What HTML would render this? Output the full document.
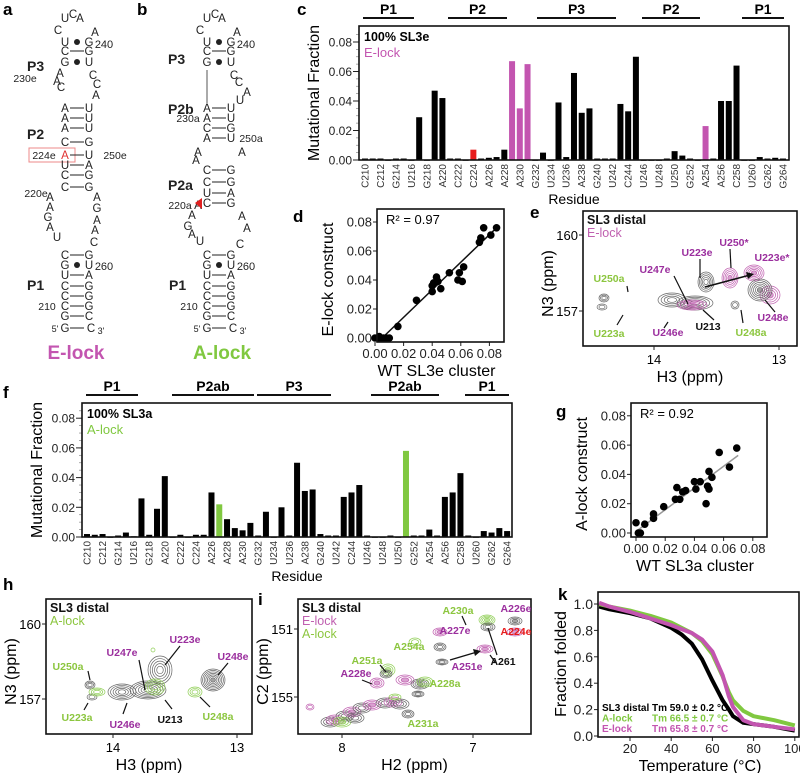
<!DOCTYPE html>
<html><head><meta charset="utf-8"><style>
html,body{margin:0;padding:0;background:#fff;}
svg{display:block;font-family:"Liberation Sans",sans-serif;}
.pl{font-weight:bold;font-size:17px;}
.tk{font-size:12px;fill:#222;}
.rl{font-size:10px;fill:#333;}
.nt{font-size:11.5px;fill:#222;}
.sb{font-weight:bold;font-size:14px;}
.lab{font-weight:bold;font-size:10.5px;}
</style></head><body>
<svg id="fig" width="800" height="773" viewBox="0 0 800 773">
<g>
<text class="pl" x="3" y="15">a</text><text class="pl" x="137" y="15">b</text><text class="pl" x="297" y="15">c</text>
<text class="pl" x="293" y="222">d</text><text class="pl" x="530" y="218">e</text><text class="pl" x="3" y="398">f</text>
<text class="pl" x="556" y="417">g</text><text class="pl" x="3" y="590">h</text><text class="pl" x="258" y="605">i</text><text class="pl" x="558" y="600">k</text>
</g>
<g class="nt" text-anchor="middle">
<text x="65" y="22">U</text><text x="73" y="18">C</text><text x="80" y="22">A</text>
<text x="58" y="34">C</text><text x="95" y="36">A</text>
<text x="65" y="46">U</text><circle cx="77" cy="42" r="3"/><text x="89" y="46">G</text><text x="104" y="48" font-size="11">240</text>
<text x="65" y="55">C</text><line x1="70" y1="51" x2="84" y2="51" stroke="#222"/><text x="89" y="55">G</text>
<text x="65" y="66">G</text><circle cx="77" cy="62" r="3"/><text x="89" y="66">U</text>
<text x="60" y="77">A</text><text x="57" y="85">A</text><text x="61" y="91">C</text><text x="25" y="82" font-size="10.5">230e</text>
<text x="93" y="79">C</text><text x="97" y="88">C</text><text x="96" y="99">A</text>
<text y="71" class="sb" text-anchor="start" x="27">P3</text>
<text x="65" y="112">A</text><text x="89" y="112">U</text><text x="65" y="122">A</text><text x="89" y="122">U</text>
<text x="65" y="132">A</text><text x="89" y="132">U</text><text x="65" y="146">C</text><text x="89" y="146">G</text>
<text x="65" y="159" fill="#e03030">A</text><text x="89" y="159">U</text><text x="44" y="159" font-size="10.5">224e</text><text x="115" y="159" font-size="10.5">250e</text>
<rect x="29" y="148" width="46" height="14" fill="none" stroke="#e88"/>
<text x="65" y="169">U</text><text x="89" y="169">A</text><text x="65" y="179">C</text><text x="89" y="179">G</text>
<text x="65" y="191">C</text><text x="89" y="191">G</text>
<text x="27" y="139" class="sb" text-anchor="start">P2</text>
<text x="36" y="197" font-size="10.5">220e</text><text x="50" y="201">A</text><text x="50" y="211">A</text><text x="48" y="221">G</text><text x="50" y="231">A</text><text x="57" y="241">U</text>
<text x="97" y="201">A</text><text x="97" y="212">G</text><text x="97" y="224">A</text><text x="95" y="234">A</text><text x="94" y="246">C</text>
<text x="65" y="259">C</text><text x="89" y="259">G</text><text x="65" y="269">G</text><circle cx="77" cy="265" r="3"/><text x="89" y="269">U</text><text x="104" y="270" font-size="11">260</text>
<text x="65" y="279">U</text><text x="89" y="279">A</text><text x="65" y="290">C</text><text x="89" y="290">G</text>
<text x="65" y="300">C</text><text x="89" y="300">G</text><text x="65" y="310">C</text><text x="89" y="310">G</text><text x="47" y="310" font-size="10.5">210</text>
<text x="65" y="320">G</text><text x="89" y="320">C</text><text x="65" y="332">G</text><text x="91" y="332">C</text><text x="55" y="332" font-size="9">5'</text><text x="101" y="334" font-size="9">3'</text>
<text x="27" y="290" class="sb" text-anchor="start">P1</text>
<g stroke="#222"><line x1="70" y1="108" x2="84" y2="108"/><line x1="70" y1="118" x2="84" y2="118"/><line x1="70" y1="128" x2="84" y2="128"/><line x1="70" y1="142" x2="84" y2="142"/><line x1="70" y1="155" x2="84" y2="155"/><line x1="70" y1="165" x2="84" y2="165"/><line x1="70" y1="175" x2="84" y2="175"/><line x1="70" y1="187" x2="84" y2="187"/><line x1="70" y1="255" x2="84" y2="255"/><line x1="70" y1="275" x2="84" y2="275"/><line x1="70" y1="286" x2="84" y2="286"/><line x1="70" y1="296" x2="84" y2="296"/><line x1="70" y1="306" x2="84" y2="306"/><line x1="70" y1="316" x2="84" y2="316"/><line x1="70" y1="328" x2="84" y2="328"/></g>
<text x="76" y="359" font-size="19" font-weight="bold" fill="#c355b0">E-lock</text>
</g>
<g class="nt" text-anchor="middle">
<text x="207" y="22">U</text><text x="215" y="18">C</text><text x="222" y="22">A</text>
<text x="200" y="34">C</text><text x="237" y="36">A</text>
<text x="207" y="46">U</text><circle cx="219" cy="42" r="3"/><text x="231" y="46">G</text><text x="246" y="48" font-size="11">240</text>
<text x="207" y="55">C</text><text x="231" y="55">G</text>
<text x="207" y="66">G</text><circle cx="219" cy="62" r="3"/><text x="231" y="66">U</text>
<text x="168" y="64" class="sb" text-anchor="start">P3</text>
<line x1="207" y1="70" x2="207" y2="103" stroke="#555"/>
<text x="234" y="79">C</text><text x="239" y="86">C</text><text x="247" y="96">A</text><text x="240" y="104">U</text>
<text x="168" y="114" class="sb" text-anchor="start">P2b</text>
<text x="207" y="112">A</text><text x="231" y="112">U</text><text x="207" y="122">A</text><text x="231" y="122">U</text><text x="188" y="122" font-size="10.5">230a</text>
<text x="207" y="132">C</text><text x="231" y="132">G</text><text x="207" y="142">A</text><text x="231" y="142">U</text><text x="251" y="142" font-size="10.5">250a</text>
<text x="198" y="156">A</text><text x="196" y="164">A</text><text x="242" y="156">A</text>
<text x="207" y="174">C</text><text x="231" y="174">G</text><text x="207" y="186">C</text><text x="231" y="186">G</text>
<text x="168" y="190" class="sb" text-anchor="start">P2a</text>
<text x="207" y="197">U</text><text x="231" y="197">A</text><text x="207" y="207">C</text><text x="231" y="207">G</text>
<text x="198" y="209">A</text><text x="180" y="209" font-size="10.5">220a</text>
<polygon points="195,203 202,198 202,209" fill="#e02020"/>
<text x="192" y="219">A</text><text x="188" y="230">G</text><text x="192" y="238">A</text><text x="200" y="245">U</text>
<text x="242" y="220">A</text><text x="247" y="232">A</text><text x="240" y="248">C</text>
<text x="207" y="259">C</text><text x="231" y="259">G</text><text x="207" y="269">G</text><circle cx="219" cy="265" r="3"/><text x="231" y="269">U</text><text x="246" y="270" font-size="11">260</text>
<text x="207" y="279">U</text><text x="231" y="279">A</text><text x="207" y="290">C</text><text x="231" y="290">G</text>
<text x="207" y="300">C</text><text x="231" y="300">G</text><text x="207" y="310">C</text><text x="231" y="310">G</text><text x="189" y="310" font-size="10.5">210</text>
<text x="207" y="320">G</text><text x="231" y="320">C</text><text x="207" y="332">G</text><text x="233" y="332">C</text><text x="197" y="332" font-size="9">5'</text><text x="243" y="334" font-size="9">3'</text>
<text x="169" y="290" class="sb" text-anchor="start">P1</text>
<g stroke="#222"><line x1="212" y1="51" x2="226" y2="51"/><line x1="212" y1="108" x2="226" y2="108"/><line x1="212" y1="118" x2="226" y2="118"/><line x1="212" y1="128" x2="226" y2="128"/><line x1="212" y1="138" x2="226" y2="138"/><line x1="212" y1="170" x2="226" y2="170"/><line x1="212" y1="182" x2="226" y2="182"/><line x1="212" y1="193" x2="226" y2="193"/><line x1="212" y1="203" x2="226" y2="203"/><line x1="212" y1="255" x2="226" y2="255"/><line x1="212" y1="275" x2="226" y2="275"/><line x1="212" y1="286" x2="226" y2="286"/><line x1="212" y1="296" x2="226" y2="296"/><line x1="212" y1="306" x2="226" y2="306"/><line x1="212" y1="316" x2="226" y2="316"/><line x1="212" y1="328" x2="226" y2="328"/></g>
<text x="222" y="359" font-size="19" font-weight="bold" fill="#80c840">A-lock</text>
</g>
<g id="chartC"></g>
<g id="chartF"></g>
<g id="chartD"></g>
<g id="chartG"></g>
<g id="chartK"></g>
<g id="specE"></g>
<g id="specH"></g>
<g id="specI"></g>
</svg>
<script>
const residues = [];
for (let r = 210; r <= 264; r++) residues.push(r);
const residueTickLabels = ["C210","C212","G214","U216","G218","A220","C222","C224","A226","A228","A230","G232","U234","U236","A238","G240","U242","C244","U246","U248","U250","G252","A254","A256","C258","U260","G262","G264"];
const elockValues = [0.001,0.001,0.001,0,0.001,0.001,0,0.029,0,0.047,0.042,0.001,0.001,0,0.007,0.001,0.0015,0.002,0.007,0.067,0.035,0.065,0,0.005,0,0.039,0.002,0.059,0.032,0.035,0.001,0.001,0.001,0.038,0.033,0.070,0,0,0,0.001,0.006,0.003,0.001,0,0.023,0.001,0.040,0.040,0.064,0,0,0.002,0.001,0.0015,0.001];
const alockValues = [0.002,0.0015,0.002,0,0.001,0.003,0.0005,0.026,0.0015,0.019,0.041,0,0.0015,0,0.0015,0.0015,0.030,0.022,0.012,0.006,0.0045,0.0095,0.001,0.017,0,0.020,0.001,0.050,0.031,0.032,0.002,0.001,0.001,0.027,0.030,0.035,0.001,0,0,0.001,0,0.058,0.001,0.001,0.005,0.001,0.027,0.030,0.043,0.001,0,0.004,0.003,0.006,0.004];
const elockRed = [224];
const elockMagenta = [229,230,231,254];
const alockGreen = [227,251];
const yTicks = [0,0.02,0.04,0.06,0.08];
const yTickLabels = ["0.00","0.02","0.04","0.06","0.08"];
const dWT = [0,0.002,0.004,0.006,0.008,0.010,0.003,0.016,0.029,0.040,0.040,0.041,0.043,0.044,0.046,0.052,0.059,0.058,0.062,0.061,0.073,0.074,0.076,0.081,0.085];
const dLock = [0,0,0,0,0,0,0.001,0.008,0.026,0.036,0.032,0.038,0.042,0.039,0.034,0.045,0.045,0.040,0.049,0.039,0.066,0.069,0.076,0.071,0.076];
const dFit = [0.005,0.085]; const dFitY = [0,0.076];
const gWT = [0,0.0016,0.003,0.006,0.012,0.012,0.019,0.028,0.027,0.030,0.032,0.034,0.040,0.041,0.044,0.048,0.049,0.050,0.050,0.052,0.057,0.064,0.069];
const gLock = [0.007,0,0,0.006,0.013,0.010,0.018,0.031,0.023,0.023,0.028,0.029,0.035,0.030,0.035,0.020,0.032,0.030,0.042,0.038,0.055,0.045,0.058];
const gFit = [0,0.07]; const gFitY = [0.001,0.053];
const kTemp = [5,10,20,30,40,45,50,55,60,65,68,70,75,80,90,100];
const kWT = [0.98,0.96,0.93,0.89,0.82,0.77,0.70,0.58,0.42,0.27,0.20,0.15,0.10,0.09,0.07,0.04];
const kA = [1.0,0.98,0.95,0.91,0.86,0.82,0.78,0.72,0.62,0.45,0.33,0.27,0.19,0.15,0.12,0.08];
const kE = [1.01,0.98,0.94,0.89,0.84,0.81,0.78,0.73,0.64,0.46,0.30,0.22,0.12,0.09,0.07,0.05];
const kXTicks = [20,40,60,80,100];
const kYTicks = [0,0.2,0.4,0.6,0.8,1.0];
const kYTickLabels = ["0.0","0.2","0.4","0.6","0.8","1.0"];

const NS = "http://www.w3.org/2000/svg";
function mk(parent, tag, attrs, txt) {
  const e = document.createElementNS(NS, tag);
  for (const k in attrs) e.setAttribute(k, attrs[k]);
  if (txt !== undefined) e.textContent = txt;
  parent.appendChild(e);
  return e;
}
const MAG = "#c355b0", GRN = "#80c840", RED = "#e81c1c";

function barChart(g, vals, hl, box, x0, step, sampleName, lockName, lockColor, hdrs) {
  const y0 = box.y + box.h;
  const ys = v => y0 - v / 0.02 * box.p;
  const xs = r => x0 + (r - 210) * step;
  for (let t = 0; t <= 0.09; t += 0.005) {
    const tick = mk(g, "line", {x1: box.x - 3, x2: box.x, y1: ys(t), y2: ys(t), stroke: "#888", "stroke-width": 0.7});
    
    
  }
  yTicks.forEach((t, i) => {
    const tk = mk(g, "line", {x1: box.x - 6, x2: box.x, y1: ys(t), y2: ys(t), stroke: "#222"});
    
    
    const lb = mk(g, "text", {x: box.x - 7, y: ys(t) + 4.5, "text-anchor": "end", class: "tk", "font-size": 13}, yTickLabels[i]);
    
    
  });
  residues.forEach((r, i) => {
    let c = "#000";
    if (hl.red && hl.red.includes(r)) c = RED;
    if (hl.mag && hl.mag.includes(r)) c = MAG;
    if (hl.grn && hl.grn.includes(r)) c = GRN;
    const b = mk(g, "rect", {x: xs(r) - 3, y: ys(vals[i]), width: 6, height: Math.max(0.8, y0 - ys(vals[i])), fill: c});
    
    
  });
  residueTickLabels.forEach((lab, i) => {
    const r = 210 + i * 2;
    const t = mk(g, "text", {x: 0, y: 0, "text-anchor": "end", class: "rl", transform: `translate(${xs(r) + 3.5},${y0 + 4}) rotate(-90)`}, lab);
    
    
  });
  const fr = mk(g, "rect", {x: box.x, y: box.y, width: box.w, height: box.h, fill: "none", stroke: "#111", "stroke-width": 1.6});
  
  
  const s1 = mk(g, "text", {x: box.x + 5, y: box.y + 15, "font-weight": "bold", "font-size": 12.5}, sampleName);
  
  
  const s2 = mk(g, "text", {x: box.x + 5, y: box.y + 31, "font-size": 13, fill: lockColor}, lockName);
  
  
  const yt = mk(g, "text", {x: 0, y: 0, "text-anchor": "middle", "font-size": 16, transform: `translate(${box.x - 40},${box.y + box.h / 2}) rotate(-90)`}, "Mutational Fraction");
  
  
  const xt = mk(g, "text", {x: box.x + box.w / 2, y: y0 + 44, "text-anchor": "middle", "font-size": 14}, "Residue");
  
  
  hdrs.forEach(h => {
    const ln = mk(g, "line", {x1: h[1], x2: h[2], y1: h[3], y2: h[3], stroke: "#111", "stroke-width": 2});
    
    
    const tx = mk(g, "text", {x: (h[1] + h[2]) / 2, y: h[3] - 4, "text-anchor": "middle", "font-weight": "bold", "font-size": 14}, h[0]);
    
    
  });
}
barChart(document.getElementById("chartC"), elockValues, {red: elockRed, mag: elockMagenta},
  {x: 359, y: 26, w: 430, h: 134, p: 29.5}, 365, 7.74, "100% SL3e", "E-lock", MAG,
  [["P1",363,414,18],["P2",448,507,18],["P3",537,616,18],["P2",642,700,18],["P1",742,784,18]]);
barChart(document.getElementById("chartF"), alockValues, {grn: alockGreen},
  {x: 82, y: 403, w: 430, h: 134, p: 29.7}, 87, 7.78, "100% SL3a", "A-lock", GRN,
  [["P1",86,138,395],["P2ab",172,254,395],["P3",257,331,395],["P2ab",371,439,395],["P1",465,509,395]]);

function scatter(g, xv, yv, fx, fy, box, x00, y00, pxx, pxy, r2, lineColor, xtitle, ytitle) {
  const xs = v => x00 + v / 0.02 * pxx, ys = v => y00 - v / 0.02 * pxy;
  yTicks.forEach((t, i) => {
    const a = mk(g, "line", {x1: box.x - 4, x2: box.x, y1: ys(t), y2: ys(t), stroke: "#222"});
    
    
    const b = mk(g, "text", {x: box.x - 5, y: ys(t) + 4.5, "text-anchor": "end", "font-size": 13, fill: "#222"}, yTickLabels[i]);
    
    
    const c = mk(g, "line", {x1: xs(t), x2: xs(t), y1: box.y + box.h, y2: box.y + box.h + 4, stroke: "#222"});
    
    
    const d = mk(g, "text", {x: xs(t), y: box.y + box.h + 16, "text-anchor": "middle", "font-size": 13, fill: "#222"}, yTickLabels[i]);
    
    
  });
  const ln = mk(g, "line", {x1: xs(fx[0]), y1: ys(fy[0]), x2: xs(fx[1]), y2: ys(fy[1]), stroke: lineColor, "stroke-width": 1.5});
  
  
  xv.forEach((v, i) => {
    const p = mk(g, "circle", {cx: xs(v), cy: ys(yv[i]), r: 3.8, fill: "#000"});
    
    
  });
  const fr = mk(g, "rect", {x: box.x, y: box.y, width: box.w, height: box.h, fill: "none", stroke: "#111", "stroke-width": 1.6});
  
  
  const rt = mk(g, "text", {x: box.x + 9, y: box.y + 15, "font-size": 13}, "R² = " + r2);
  
  
  const xt = mk(g, "text", {x: box.x + box.w / 2 - 4, y: box.y + box.h + 34, "text-anchor": "middle", "font-size": 16}, xtitle);
  
  
  const yt = mk(g, "text", {x: 0, y: 0, "text-anchor": "middle", "font-size": 16, transform: `translate(${box.x - 44},${box.y + box.h / 2 + 4}) rotate(-90)`}, ytitle);
  
  
}
scatter(document.getElementById("chartD"), dWT, dLock, dFit, dFitY, {x: 377, y: 209, w: 127, h: 133}, 375, 338, 28.6, 29, "0.97", "#111", "WT SL3e cluster", "E-lock construct");
scatter(document.getElementById("chartG"), gWT, gLock, gFit, gFitY, {x: 631, y: 403, w: 136, h: 134}, 636, 533, 29.2, 29.3, "0.92", "#999", "WT SL3a cluster", "A-lock construct");

(function () {
  const g = document.getElementById("chartK");
  const box = {x: 598, y: 592, w: 201, h: 145};
  const xs = t => 630 + (t - 20) * 2.06, ys = v => 736 - v * 132;
  const series = [[kWT, "#000"], [kA, GRN], [kE, MAG]];
  series.forEach(s => {
    const pts = kTemp.map((t, i) => xs(t).toFixed(1) + "," + ys(s[0][i]).toFixed(1)).join(" ");
    const pl = mk(g, "polyline", {points: pts, fill: "none", stroke: s[1], "stroke-width": 4, "stroke-linejoin": "round"});
    
    
  });
  kXTicks.forEach(t => {
    const a = mk(g, "line", {x1: xs(t), x2: xs(t), y1: box.y + box.h, y2: box.y + box.h + 4, stroke: "#222"});
    
    
    const b = mk(g, "text", {x: xs(t), y: 753, "text-anchor": "middle", "font-size": 13, fill: "#222"}, String(t));
    
    
  });
  kYTicks.forEach((t, i) => {
    const a = mk(g, "line", {x1: box.x - 4, x2: box.x, y1: ys(t), y2: ys(t), stroke: "#222"});
    
    
    const b = mk(g, "text", {x: box.x - 5, y: ys(t) + 5, "text-anchor": "end", "font-size": 14, fill: "#222"}, kYTickLabels[i]);
    
    
  });
  const fr = mk(g, "rect", {x: box.x, y: box.y, width: box.w, height: box.h, fill: "none", stroke: "#111", "stroke-width": 1.6});
  
  
  const leg = [["SL3 distal", "Tm 59.0 ± 0.2 °C", "#000", 711], ["A-lock", "Tm 66.5 ± 0.7 °C", GRN, 721.5], ["E-lock", "Tm 65.8 ± 0.7 °C", MAG, 732]];
  leg.forEach(l => {
    const a = mk(g, "text", {x: 602, y: l[3], "font-size": 10, "font-weight": "bold", fill: l[2]}, l[0]);
    
    
    const b = mk(g, "text", {x: 652, y: l[3], "font-size": 10, "font-weight": "bold", fill: l[2]}, l[1]);
    
    
  });
  const xt = mk(g, "text", {x: 700, y: 771, "text-anchor": "middle", "font-size": 16}, "Temperature (°C)");
  
  
  const yt = mk(g, "text", {x: 0, y: 0, "text-anchor": "middle", "font-size": 16, transform: "translate(566,664) rotate(-90)"}, "Fraction folded");
  
  
})();

function peak(g, cx, cy, rx, ry, color, n, filled) {
  for (let k = 0; k < n; k++) {
    const f = 1 - k / (n + 0.5);
    const e = mk(g, "ellipse", {cx: cx, cy: cy, rx: rx * f, ry: ry * f, fill: filled && k === n - 1 ? color : "none", stroke: color, "stroke-width": 0.7, "fill-opacity": 0.6});
    
    
  }
}
function specFrame(g, box, yt, xt, ylabs, xlabs, xtitle, ytitle, heads) {
  const fr = mk(g, "rect", {x: box.x, y: box.y, width: box.w, height: box.h, fill: "none", stroke: "#111", "stroke-width": 1.6});
  
  
  ylabs.forEach(l => {
    const a = mk(g, "line", {x1: box.x - 4, x2: box.x, y1: l[1], y2: l[1], stroke: "#222"});
    
    
    const b = mk(g, "text", {x: box.x - 5, y: l[1] + 5, "text-anchor": "end", "font-size": 13}, l[0]);
    
    
  });
  xlabs.forEach(l => {
    const a = mk(g, "line", {x1: l[1], x2: l[1], y1: box.y + box.h, y2: box.y + box.h + 4, stroke: "#222"});
    
    
    const b = mk(g, "text", {x: l[1], y: box.y + box.h + 18, "text-anchor": "middle", "font-size": 13}, l[0]);
    
    
  });
  const x1 = mk(g, "text", {x: box.x + box.w / 2, y: box.y + box.h + 36, "text-anchor": "middle", "font-size": 16}, xtitle);
  
  
  const y1 = mk(g, "text", {x: 0, y: 0, "text-anchor": "middle", "font-size": 16, transform: `translate(${box.x - 30},${box.y + box.h / 2 + 5}) rotate(-90)`}, ytitle);
  
  
  heads.forEach((h, i) => {
    const t = mk(g, "text", {x: box.x + 4, y: box.y + 13 + i * 13, "font-size": 12.5, "font-weight": i === 0 ? "bold" : "normal", fill: h[1]}, h[0]);
    
    
  });
}
function labels(g, arr) {
  arr.forEach(a => {
    const t = mk(g, "text", {x: a[1], y: a[2], "text-anchor": "middle", class: "lab", fill: a[3]}, a[0]);
    
    
  });
}
function lines(g, arr) {
  arr.forEach(a => {
    const l = mk(g, "line", {x1: a[0], y1: a[1], x2: a[2], y2: a[3], stroke: "#111", "stroke-width": 1.2});
    
    
  });
}
const GR = "#666", MG = "#c060b0", GN = "#8fce55", PU = "#9b2f9e", LG = "#8cc63f";
(function () {
  const g = document.getElementById("specE");
  peak(g, 604, 298, 5, 4, GR, 3); peak(g, 602, 307, 5, 3, GR, 2);
  peak(g, 672, 300, 14, 7, GR, 4); peak(g, 695, 303, 18, 7, GR, 5); peak(g, 692, 305, 15, 5, MG, 4, true);
  peak(g, 706, 282, 8, 10, GR, 5); peak(g, 730, 278, 8, 10, MG, 5, true); peak(g, 754, 273, 10, 8, MG, 5, true);
  peak(g, 770, 295, 10, 9, MG, 4, true); peak(g, 760, 290, 12, 11, GR, 6, true); peak(g, 735, 305, 4, 4, GR, 2);
  const ar = mk(g, "line", {x1: 705, y1: 287, x2: 750, y2: 275, stroke: "#111", "stroke-width": 1.5});
  
  
  const ah = mk(g, "polygon", {points: "754,274 746,272 748,279", fill: "#111"});
  
  
  specFrame(g, {x: 583, y: 211, w: 214, h: 135}, 0, 0, [["160", 235], ["157", 311]], [["14", 654], ["13", 779]], "H3 (ppm)", "N3 (ppm)", [["SL3 distal", "#111"], ["E-lock", MG]]);
  labels(g, [["U250a", 609, 282, LG], ["U223a", 609, 337, LG], ["U247e", 655, 273, PU], ["U223e", 697, 256, PU], ["U250*", 734, 246, PU], ["U223e*", 772, 261, PU], ["U248e", 773, 321, PU], ["U248a", 751, 336, LG], ["U246e", 668, 336, PU], ["U213", 708, 330, "#111"]]);
  lines(g, [[627, 286, 628, 292], [623, 315, 617, 325], [674, 276, 688, 304], [700, 259, 700, 278], [730, 249, 731, 268], [765, 300, 775, 312], [741, 310, 743, 323], [668, 322, 664, 328], [703, 310, 714, 320]]);
})();
(function () {
  const g = document.getElementById("specH");
  peak(g, 90, 685, 5, 4, GR, 3); peak(g, 92, 697, 5, 3, GR, 2); peak(g, 97, 692, 8, 4, GN, 3);
  peak(g, 122, 692, 14, 8, GR, 5); peak(g, 148, 690, 18, 9, GR, 6); peak(g, 160, 670, 12, 14, GR, 5);
  peak(g, 155, 687, 10, 8, GN, 4); peak(g, 153, 650, 2, 2, GN, 1); peak(g, 195, 692, 7, 5, GN, 3);
  peak(g, 213, 680, 12, 11, GR, 7, true);
  specFrame(g, {x: 46, y: 599, w: 206, h: 135}, 0, 0, [["160", 624], ["157", 699]], [["14", 113], ["13", 237]], "H3 (ppm)", "N3 (ppm)", [["SL3 distal", "#111"], ["A-lock", LG]]);
  labels(g, [["U250a", 68, 670, LG], ["U223a", 77, 721, LG], ["U247e", 122, 656, PU], ["U223e", 185, 643, PU], ["U248e", 233, 660, PU], ["U246e", 125, 728, PU], ["U213", 170, 723, "#111"], ["U248a", 218, 720, LG]]);
  lines(g, [[88, 671, 90, 680], [84, 710, 88, 703], [139, 660, 145, 690], [180, 646, 165, 665], [228, 663, 218, 675], [123, 714, 127, 703], [172, 709, 165, 700], [210, 707, 200, 697]]);
})();
(function () {
  const g = document.getElementById("specI");
  const band = [[330, 722, GR], [335, 720, MG], [345, 716, GR], [352, 712, MG], [362, 708, GR], [372, 705, MG], [385, 703, GR], [393, 702, MG], [400, 704, GR], [342, 722, GN], [355, 718, GR]];
  band.forEach(b => peak(g, b[0], b[1], 9, 5, b[2], 3, b[2] !== GR));
  peak(g, 310, 707, 4, 3, MG, 2);
  peak(g, 487, 620, 8, 5, GN, 4, true); peak(g, 488, 627, 7, 4, GR, 3); peak(g, 440, 632, 7, 4, MG, 3, true);
  peak(g, 440, 647, 6, 4, GR, 3); peak(g, 415, 642, 6, 4, GN, 2); peak(g, 485, 649, 8, 4, MG, 3, true); peak(g, 442, 662, 6, 3, GR, 3);
  peak(g, 388, 670, 7, 6, GN, 3, true); peak(g, 386, 674, 6, 4, GR, 3); peak(g, 377, 683, 7, 5, MG, 3, true); peak(g, 405, 680, 9, 5, MG, 3, true);
  peak(g, 420, 684, 9, 5, GR, 4, true); peak(g, 425, 682, 8, 5, GN, 3); peak(g, 418, 694, 6, 3, GR, 3); peak(g, 408, 714, 6, 4, GR, 3); peak(g, 395, 697, 6, 3, GN, 2);
  peak(g, 515, 621, 7, 4, GR, 3, true); peak(g, 515, 632, 8, 4, MG, 3, true);
  const ar = mk(g, "line", {x1: 450, y1: 660, x2: 477, y2: 652, stroke: "#111", "stroke-width": 1.4});
  
  
  const ah = mk(g, "polygon", {points: "481,651 473,649 475,656", fill: "#111"});
  
  
  specFrame(g, {x: 298, y: 599, w: 233, h: 135}, 0, 0, [["151", 629], ["155", 697]], [["8", 342], ["7", 473]], "H2 (ppm)", "C2 (ppm)", [["SL3 distal", "#111"], ["E-lock", MG], ["A-lock", LG]]);
  labels(g, [["A230a", 458, 614, LG], ["A226e", 516, 612, PU], ["A224e", 516, 635, RED], ["A227e", 455, 634, PU], ["A254a", 409, 650, LG], ["A251a", 367, 664, LG], ["A228e", 356, 677, PU], ["A228a", 445, 687, LG], ["A251e", 467, 670, PU], ["A261", 503, 665, "#111"], ["A231a", 423, 727, LG]]);
  lines(g, [[490, 655, 495, 662], [462, 616, 466, 625], [380, 665, 386, 672], [362, 680, 372, 684], [488, 628, 497, 655]]);
})();
</script>
</body></html>
